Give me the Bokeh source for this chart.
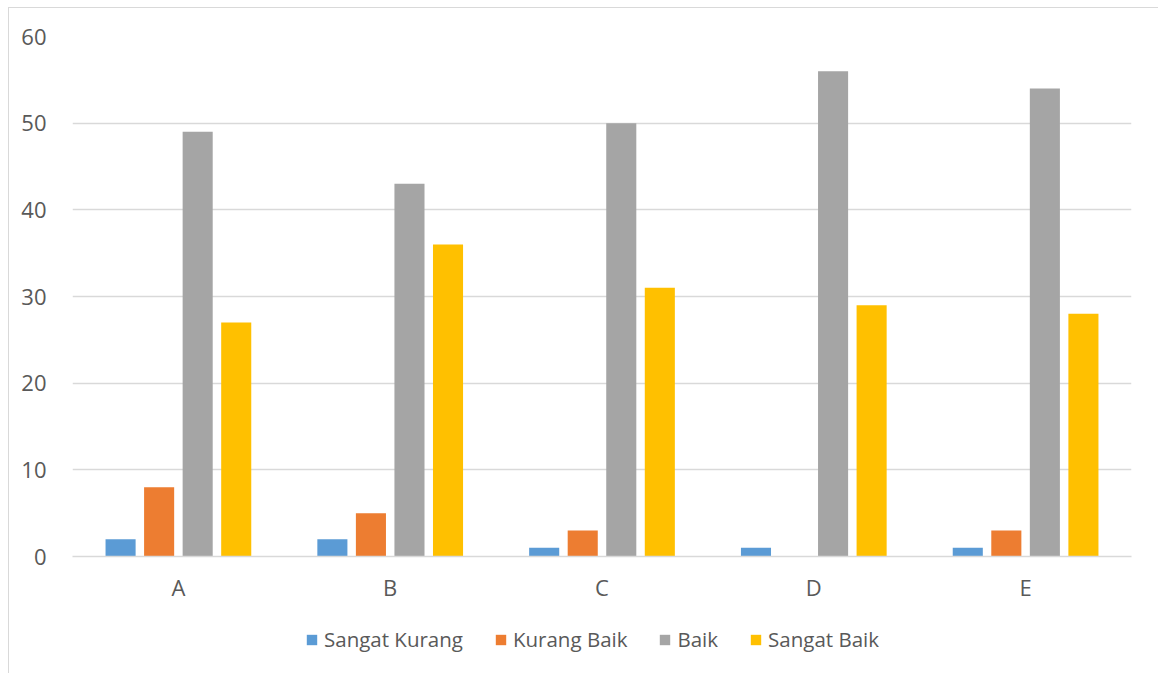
from bokeh.plotting import figure
from bokeh.layouts import column
from bokeh.models import FactorRange, Range1d, ColumnDataSource, Legend, SingleIntervalTicker
from bokeh.transform import dodge
from bokeh.embed import file_html
from bokeh.resources import INLINE

categories = ["A", "B", "C", "D", "E"]
series_names = ["Sangat Kurang", "Kurang Baik", "Baik", "Sangat Baik"]
sangat_kurang = [2, 2, 1, 1, 1]
kurang_baik = [8, 5, 3, 0, 3]
baik = [49, 43, 50, 56, 54]
sangat_baik = [27, 36, 31, 29, 28]
colors = ["#5B9BD5", "#ED7D31", "#A5A5A5", "#FFC000"]

FONT = "Open Sans"
TXT = "#595959"
GRID = "#d9d9d9"

p = figure(frame_width=1059, frame_height=520, x_range=FactorRange(*categories), y_range=Range1d(0, 60),
           output_backend="svg", toolbar_location=None,
           min_border_left=63, min_border_right=27, min_border_top=28, min_border_bottom=60)

source = ColumnDataSource(dict(cat=categories, sk=sangat_kurang, kb=kurang_baik, b=baik, sb=sangat_baik))
offsets = [-0.273, -0.091, 0.091, 0.273]
fields = ["sk", "kb", "b", "sb"]
for f, off, c in zip(fields, offsets, colors):
    p.vbar(x=dodge("cat", off, range=p.x_range), top=f, width=0.142, source=source,
           fill_color=c, line_color=None)

p.outline_line_color = None
p.xgrid.grid_line_color = None
p.ygrid.grid_line_color = GRID
p.ygrid.grid_line_width = 1.5
p.yaxis.ticker = SingleIntervalTicker(interval=10)
p.yaxis.axis_line_color = None
p.yaxis.major_tick_line_color = None
p.yaxis.minor_tick_line_color = None
p.yaxis.major_tick_out = 0
p.yaxis.major_label_standoff = 22
p.xaxis.axis_line_color = GRID
p.xaxis.axis_line_width = 1.5
p.xaxis.major_tick_line_color = None
p.xaxis.minor_tick_line_color = None
p.xaxis.major_tick_out = 0
p.xaxis.major_label_standoff = 15
for ax in (p.xaxis[0], p.yaxis[0]):
    ax.major_label_text_font = FONT
    ax.major_label_text_font_size = "22px"
    ax.major_label_text_color = TXT

# legend strip below the chart (series drawn out of view, only their legend entries show)
lg = figure(frame_width=1149, frame_height=57, x_range=FactorRange(*categories), y_range=Range1d(100, 101),
            output_backend="svg", toolbar_location=None, x_axis_type=None, y_axis_type=None,
            min_border_left=0, min_border_right=0, min_border_top=0, min_border_bottom=0)
lg.outline_line_color = None
lg.xgrid.visible = False
lg.ygrid.visible = False
items = []
for f, off, c, name in zip(fields, offsets, colors, series_names):
    r = lg.vbar(x=dodge("cat", off, range=lg.x_range), top=f, width=0.142, source=source,
                fill_color=c, line_color=None)
    items.append((name, [r]))
legend = Legend(items=items, orientation="horizontal", location=(296, 20))
legend.label_text_font = FONT
legend.label_text_font_size = "20.5px"
legend.label_text_color = TXT
legend.glyph_width = 13
legend.glyph_height = 13
legend.label_standoff = 6
legend.spacing = 31
legend.border_line_color = None
legend.background_fill_alpha = 0
legend.margin = 0
legend.padding = 0
lg.add_layout(legend, "center")

layout = column(p, lg, spacing=0)
layout.margin = (7, 0, 0, 8)
layout.styles = {"border-top": "1.5px solid #d9d9d9", "border-left": "1.5px solid #d9d9d9"}

open("out.html", "w").write(file_html(layout, INLINE))
